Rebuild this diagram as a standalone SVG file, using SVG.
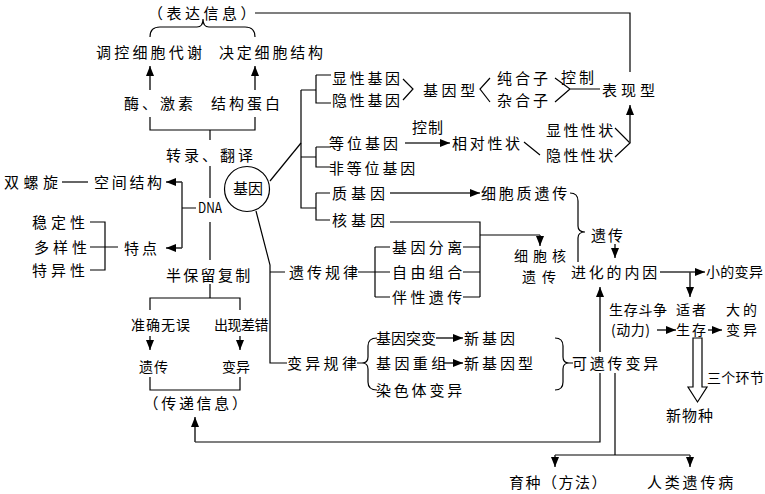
<svg xmlns="http://www.w3.org/2000/svg" width="765" height="494" viewBox="0 0 765 494">
<style>
text{font-family:"Noto Sans CJK SC","Noto Sans",sans-serif;font-size:15px;fill:#000;letter-spacing:3px}
.s{font-size:14px;letter-spacing:0.5px}
.ln{fill:none;stroke:#000;stroke-width:1.2}
.ar{fill:none;stroke:#333;stroke-width:1.6;marker-end:url(#ah)}
</style>
<defs>
<marker id="ah" viewBox="0 0 10 8" refX="10" refY="4" markerWidth="10" markerHeight="8" markerUnits="userSpaceOnUse" orient="auto"><path d="M0,0 L10,4 L0,8 z" fill="#000"/></marker>
</defs>
<rect width="765" height="494" fill="#fff"/>

<g id="connectors">
<path class="ln" d="M255,13 H630 V72"/>
<path class="ln" d="M150,37 Q150,27 160,27 L197,27 Q203,27 203,19 Q203,27 209,27 L245,27 Q255,27 255,37"/>
<line class="ar" x1="150" y1="90" x2="150" y2="66"/>
<line class="ar" x1="255" y1="90" x2="255" y2="66"/>
<path class="ln" d="M150,117 V130 H255 V117 M210,130 V140"/>
<path class="ln" d="M210,166 V198 M210,222 V260 M210,284 V298 M150,310 V298 H240 V310"/>
<path class="ln" d="M196,208 H182 V182 M182,208 V248"/>
<line class="ar" x1="182" y1="182" x2="166" y2="182"/>
<line class="ar" x1="182" y1="248" x2="166" y2="248"/>
<path class="ln" d="M62,182 H88"/>
<path class="ln" d="M90,222 H105 V270 H90 M90,247 H118"/>
<line class="ar" x1="150" y1="336" x2="150" y2="350"/>
<line class="ar" x1="240" y1="336" x2="240" y2="350"/>
<path class="ln" d="M150,377 V390 H240 V377"/>
<path class="ln" d="M270,181 L301,143"/>
<path class="ln" d="M301,90 V208 H316 M301,90 H316 M316,75 H331 M316,75 V103 H331 M301,157 H316 M316,147 H331 M316,147 V167 H331 M316,193 H330 M316,193 V220 H330"/>
<path class="ln" d="M403,79 L413,89 L403,100 M490,78 L480,89 L490,102 M555,78 L570,89 L555,102 M570,89 H600"/>
<line class="ar" x1="405" y1="143" x2="450" y2="143"/>
<path class="ln" d="M524,142 L540,155 M615,128 L630,143 L615,157"/>
<line class="ar" x1="630" y1="143" x2="630" y2="105"/>
<line class="ar" x1="390" y1="193" x2="480" y2="193"/>
<path class="ln" d="M390,222 H480 V297 M480,235 H540"/>
<line class="ar" x1="540" y1="235" x2="540" y2="246"/>
<path class="ln" d="M570,193 Q578,193 578,201 L578,226 Q578,232 585,232 Q578,232 578,238 L578,262"/>
<line class="ar" x1="615" y1="244" x2="615" y2="258"/>
<path class="ln" d="M256,211 L270,265 V363 H287 M270,272 H285"/>
<path class="ln" d="M358,272 H390 M375,247 V297 M375,247 H390 M375,297 H390 M463,247 H480 M463,272 H480 M463,297 H480"/>
<path class="ln" d="M357,363 H362 M377,338 Q368,338 368,346 L368,357 Q368,363 362,363 Q368,363 368,369 L368,382 Q368,390 377,390"/>
<line class="ar" x1="436" y1="338" x2="463" y2="338"/>
<line class="ar" x1="443" y1="363" x2="463" y2="363"/>
<path class="ln" d="M555,338 Q563,338 563,346 L563,357 Q563,363 569,363 Q563,363 563,369 L563,382 Q563,390 555,390 M569,363 H573"/>
<line class="ar" x1="660" y1="272" x2="705" y2="272"/>
<line class="ar" x1="690" y1="272" x2="690" y2="297"/>
<line class="ar" x1="600" y1="352" x2="600" y2="287"/>
<line class="ar" x1="657" y1="330" x2="676" y2="330"/>
<line class="ar" x1="708" y1="330" x2="722" y2="330"/>
<polygon points="693,338 702,338 702,387 707,387 697.5,402 688,387 693,387" fill="#fff" stroke="#000" stroke-width="1.2"/>
<path class="ln" d="M600,373 V442 H195"/>
<line class="ar" x1="195" y1="442" x2="195" y2="417"/>
<path class="ln" d="M615,373 V455 M555,455 H690"/>
<line class="ar" x1="555" y1="455" x2="555" y2="467"/>
<line class="ar" x1="690" y1="455" x2="690" y2="467"/>
</g>

<g id="n-biaoda"><text x="148" y="19" style="letter-spacing:3.5px">（表达信息）</text></g>
<g id="n-tiaokong"><text x="96" y="58" style="letter-spacing:3.2px">调控细胞代谢</text></g>
<g id="n-jueding"><text x="219" y="58" style="letter-spacing:2.8px">决定细胞结构</text></g>
<g id="n-mei"><text x="124" y="109">酶、激素</text></g>
<g id="n-jiegou"><text x="211" y="109">结构蛋白</text></g>
<g id="n-zhuanlu"><text x="166" y="161">转录、翻译</text></g>
<g id="n-dna"><text x="198" y="213" textLength="24" lengthAdjust="spacingAndGlyphs" style="font-size:14px;letter-spacing:0">DNA</text></g>
<g id="n-shuangluo"><text x="4" y="188" style="letter-spacing:4.5px">双螺旋</text></g>
<g id="n-kongjian"><text x="94" y="188" style="letter-spacing:2.7px">空间结构</text></g>
<g id="n-wending"><text x="32" y="228" style="letter-spacing:4px">稳定性</text></g>
<g id="n-duoyang"><text x="34" y="253" style="letter-spacing:4px">多样性</text></g>
<g id="n-teyi"><text x="32" y="276" style="letter-spacing:4px">特异性</text></g>
<g id="n-tedian"><text x="124" y="254">特点</text></g>
<g id="n-banbao"><text x="166" y="281" style="letter-spacing:2.3px">半保留复制</text></g>
<g id="n-zhunque"><text class="s" x="131" y="330" style="letter-spacing:1px">准确无误</text></g>
<g id="n-chuxian"><text class="s" x="214" y="330" style="letter-spacing:-0.5px">出现差错</text></g>
<g id="n-yichuan1"><text class="s" x="139" y="372" style="letter-spacing:1px">遗传</text></g>
<g id="n-bianyi1"><text class="s" x="222" y="372" style="letter-spacing:0">变异</text></g>
<g id="n-chuandi"><text x="143.5" y="409" style="letter-spacing:2.7px">（传递信息）</text></g>
<g id="n-jiyin"><circle cx="247" cy="189" r="22.5" fill="#fff" stroke="#000" stroke-width="1.2"/><text x="233" y="194" style="letter-spacing:0">基因</text></g>
<g id="n-xianxing"><text x="332" y="84" style="letter-spacing:2.7px">显性基因</text></g>
<g id="n-yinxing"><text x="332" y="106" style="letter-spacing:2.7px">隐性基因</text></g>
<g id="n-jiyinxing"><text x="423" y="96" style="letter-spacing:3.6px">基因型</text></g>
<g id="n-chunhe"><text x="497" y="84">纯合子</text></g>
<g id="n-zahe"><text x="497" y="106">杂合子</text></g>
<g id="n-kongzhi1"><text x="561" y="83">控制</text></g>
<g id="n-biaoxian"><text x="602" y="96" style="letter-spacing:4px">表现型</text></g>
<g id="n-dengwei"><text x="329" y="149">等位基因</text></g>
<g id="n-kongzhi2"><text x="412" y="133" style="letter-spacing:1px">控制</text></g>
<g id="n-xiangdui"><text x="452" y="149" style="letter-spacing:2.7px">相对性状</text></g>
<g id="n-xianxz"><text x="546" y="136" style="letter-spacing:2.4px">显性性状</text></g>
<g id="n-yinxz"><text x="546" y="161" style="letter-spacing:2.4px">隐性性状</text></g>
<g id="n-feideng"><text x="329" y="174" style="letter-spacing:2.8px">非等位基因</text></g>
<g id="n-zhijiyin"><text x="332" y="199" style="letter-spacing:4px">质基因</text></g>
<g id="n-xibaozhi"><text x="481" y="199" style="letter-spacing:2.8px">细胞质遗传</text></g>
<g id="n-hejiyin"><text x="332" y="226" style="letter-spacing:4px">核基因</text></g>
<g id="n-yichuanguilv"><text x="289" y="278">遗传规律</text></g>
<g id="n-fenli"><text x="392" y="253" style="letter-spacing:3.4px">基因分离</text></g>
<g id="n-ziyou"><text x="392" y="278" style="letter-spacing:3.4px">自由组合</text></g>
<g id="n-banxing"><text x="392" y="303" style="letter-spacing:3.4px">伴性遗传</text></g>
<g id="n-xibaohe"><text class="s" x="514" y="261" style="letter-spacing:5px">细胞核</text><text class="s" x="522" y="282" style="letter-spacing:6px">遗传</text></g>
<g id="n-yichuan2"><text x="591" y="241" style="letter-spacing:2px">遗传</text></g>
<g id="n-jinhua"><text x="571" y="278" style="letter-spacing:2.8px">进化的内因</text></g>
<g id="n-xiaode"><text class="s" x="706" y="277" style="letter-spacing:0.3px">小的变异</text></g>
<g id="n-shengcun"><text class="s" x="609" y="315" style="letter-spacing:0.7px">生存斗争</text><text class="s" x="611" y="335" style="letter-spacing:0.5px">(动力)</text></g>
<g id="n-shizhe"><text class="s" x="676" y="315" style="letter-spacing:2px">适者</text><text class="s" x="676" y="335" style="letter-spacing:2px">生存</text></g>
<g id="n-dade"><text class="s" x="726" y="315" style="letter-spacing:3px">大的</text><text class="s" x="726" y="335" style="letter-spacing:3px">变异</text></g>
<g id="n-sange"><text class="s" x="707" y="383" style="letter-spacing:0.3px">三个环节</text></g>
<g id="n-xinwuzhong"><text x="666" y="421" style="letter-spacing:1px">新物种</text></g>
<g id="n-keyichuan"><text x="572" y="369" style="letter-spacing:2.8px">可遗传变异</text></g>
<g id="n-bianyiguilv"><text x="287" y="369" style="letter-spacing:3.3px">变异规律</text></g>
<g id="n-tubian"><text x="376" y="344" style="letter-spacing:0">基因突变</text></g>
<g id="n-xinjiyin"><text x="464" y="344">新基因</text></g>
<g id="n-chongzu"><text x="376" y="369" style="letter-spacing:3.4px">基因重组</text></g>
<g id="n-xinjiyinxing"><text x="464" y="369">新基因型</text></g>
<g id="n-ranse"><text x="376" y="396" style="letter-spacing:2.8px">染色体变异</text></g>
<g id="n-yuzhong"><text x="509" y="488" style="letter-spacing:1.5px">育种（方法）</text></g>
<g id="n-renlei"><text x="647" y="488" style="letter-spacing:2.8px">人类遗传病</text></g>
</svg>
